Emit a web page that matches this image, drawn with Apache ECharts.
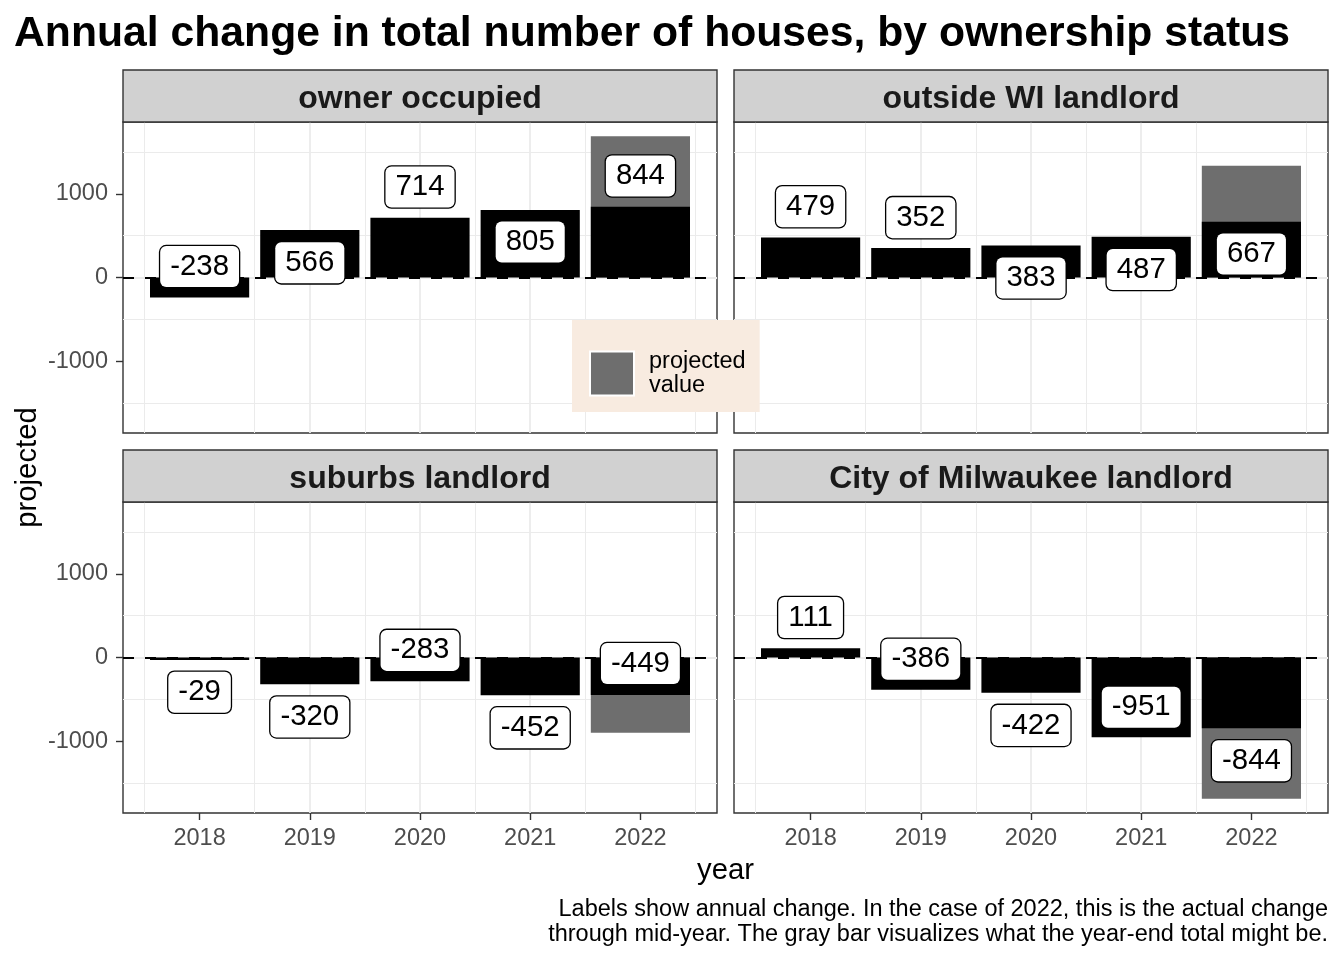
<!DOCTYPE html>
<html><head><meta charset="utf-8">
<script src="https://cdn.jsdelivr.net/npm/echarts@6/dist/echarts.min.js"></script>
<style>html,body{margin:0;padding:0;background:#fff}#chart{width:1344px;height:960px}</style>
</head><body><div id="chart"></div>
<script>
// ---------------- data ----------------
const years = [2018, 2019, 2020, 2021, 2022];
const panelNames = ['owner occupied', 'outside WI landlord', 'suburbs landlord', 'City of Milwaukee landlord'];
const ownerOccupied = [-238, 566, 714, 805, 844];
const outsideWILandlord = [479, 352, 383, 487, 667];
const suburbsLandlord = [-29, -320, -283, -452, -449];
const milwaukeeLandlord = [111, -386, -422, -951, -844];
const projected2022 = [1688, 1334, -898, -1688];
// heights at which the (repelled) value labels sit
const ownerLabelY = [130, 175, 1080, 425, 1212];
const outsideLabelY = [845, 715, -5, 95, 282];
const suburbsLabelY = [-415, -710, 85, -840, -73];
const milwaukeeLabelY = [478, -22, -811, -593, -1234];
const yTickValues = [-1000, 0, 1000];
const captionLines = ['Labels show annual change. In the case of 2022, this is the actual change',
                      'through mid-year. The gray bar visualizes what the year-end total might be.'];

// ---------------- build ----------------
const seriesValues = [ownerOccupied, outsideWILandlord, suburbsLandlord, milwaukeeLandlord];
const labelHeights = [ownerLabelY, outsideLabelY, suburbsLabelY, milwaukeeLabelY];

const FONT = "'Liberation Sans', Arial, Helvetica, sans-serif";
const X_MIN = 2017.305, X_MAX = 2022.695, Y_MIN = -1857, Y_MAX = 1857;
const BAR_HALF = 0.45;
const grids = [
  {left: 123, top: 122, width: 594, height: 311},
  {left: 734, top: 122, width: 594, height: 311},
  {left: 123, top: 502, width: 594, height: 311},
  {left: 734, top: 502, width: 594, height: 311}
];
const strips = [
  {x: 123, y: 70, w: 594, h: 52},
  {x: 734, y: 70, w: 594, h: 52},
  {x: 123, y: 450, w: 594, h: 52},
  {x: 734, y: 450, w: 594, h: 52}
];

function barItem(params, api) {
  const x = api.value(0), v = api.value(1);
  const a = api.coord([x - BAR_HALF, 0]);
  const b = api.coord([x + BAR_HALF, v]);
  return {
    type: 'rect',
    shape: {x: a[0], y: Math.min(a[1], b[1]), width: b[0] - a[0], height: Math.abs(b[1] - a[1])},
    style: {fill: api.visual('color')}
  };
}

const gridLine = {color: '#EBEBEB', width: 1.8};
const minorGridLine = {color: '#EBEBEB', width: 1};
const xAxes = [], yAxes = [], series = [];
grids.forEach((g, i) => {
  const bottom = i >= 2, left = i % 2 === 0;
  xAxes.push({
    gridIndex: i, type: 'value', min: X_MIN, max: X_MAX,
    axisLine: {show: false, onZero: false},
    axisTick: {show: bottom, length: 7, customValues: years, lineStyle: {color: '#333333', width: 1.4}},
    axisLabel: {show: bottom, customValues: years, margin: 14, color: '#4D4D4D', fontSize: 23.5,
                fontFamily: FONT, formatter: v => String(v)},
    splitLine: {show: true, showMinLine: false, showMaxLine: false, lineStyle: gridLine},
    minorTick: {show: false, splitNumber: 2},
    minorSplitLine: {show: true, lineStyle: minorGridLine}
  });
  yAxes.push({
    gridIndex: i, type: 'value', min: Y_MIN, max: Y_MAX,
    axisLine: {show: false, onZero: false},
    axisTick: {show: left, length: 7, customValues: yTickValues, lineStyle: {color: '#333333', width: 1.4}},
    axisLabel: {show: left, customValues: yTickValues, margin: 15, color: '#4D4D4D', fontSize: 23.5,
                fontFamily: FONT, formatter: v => String(v), lineHeight: 28, verticalAlign: 'middle',
                padding: [7, 0, 0, 0]},
    splitLine: {show: true, showMinLine: false, showMaxLine: false, lineStyle: gridLine},
    minorTick: {show: false, splitNumber: 2},
    minorSplitLine: {show: true, lineStyle: minorGridLine}
  });
  // projected (gray) bar for 2022
  series.push({
    type: 'custom', name: 'projected value', xAxisIndex: i, yAxisIndex: i, z: 2,
    itemStyle: {color: '#6E6E6E'},
    renderItem: barItem,
    data: [[years[years.length - 1], projected2022[i]]],
    markLine: {
      silent: true, symbol: 'none', z: 5, animation: false,
      label: {show: false},
      lineStyle: {color: '#000', width: 2, type: [11, 11]},
      data: [{yAxis: 0}]
    }
  });
  // actual (black) bars
  series.push({
    type: 'custom', name: 'actual', xAxisIndex: i, yAxisIndex: i, z: 3,
    itemStyle: {color: '#000000'},
    renderItem: barItem,
    data: years.map((y, j) => [y, seriesValues[i][j]])
  });
  // value labels
  series.push({
    type: 'scatter', name: 'labels', xAxisIndex: i, yAxisIndex: i, z: 10,
    symbol: 'rect', symbolSize: 1, silent: true,
    itemStyle: {color: 'rgba(0,0,0,0)', opacity: 1},
    label: {
      show: true, position: 'inside', formatter: p => String(p.value[2]),
      color: '#000', opacity: 1, fontSize: 29.4, fontFamily: FONT, lineHeight: 31,
      backgroundColor: '#ffffff', borderColor: '#000000', borderWidth: 1.3, borderRadius: 6,
      padding: [7, 10, 3, 10]
    },
    data: years.map((y, j) => [y, labelHeights[i][j], seriesValues[i][j]])
  });
});

const graphics = [];
strips.forEach((s, i) => {
  graphics.push({type: 'rect', z: 3, shape: {x: s.x, y: s.y, width: s.w, height: s.h},
    style: {fill: '#D1D1D1', stroke: '#333333', lineWidth: 1.4}});
  graphics.push({type: 'text', z: 4, x: s.x + s.w / 2, y: s.y + s.h / 2 + 3,
    style: {text: panelNames[i], fontSize: 32, fontWeight: 'bold', fontFamily: FONT, fill: '#1A1A1A',
            textAlign: 'center', textVerticalAlign: 'middle'}});
});
graphics.push({type: 'text', z: 4, x: 725.5, y: 871,
  style: {text: 'year', fontSize: 29.3, fontFamily: FONT, fill: '#000', textAlign: 'center', textVerticalAlign: 'middle'}});
graphics.push({type: 'text', z: 4, x: 28, y: 467.5, rotation: Math.PI / 2,
  style: {text: 'projected', fontSize: 29.3, fontFamily: FONT, fill: '#000', textAlign: 'center', textVerticalAlign: 'middle'}});
graphics.push({type: 'text', z: 4, x: 1328, y: 897,
  style: {text: captionLines.join('\n'), fontSize: 23.5, lineHeight: 25, fontFamily: FONT, fill: '#000',
          textAlign: 'right', textVerticalAlign: 'top'}});

const option = {
  animation: false,
  backgroundColor: '#ffffff',
  title: {
    text: 'Annual change in total number of houses, by ownership status',
    left: 14, top: 13, padding: 0,
    textStyle: {fontSize: 42.7, fontWeight: 'bold', color: '#000', fontFamily: FONT}
  },
  legend: {
    show: true, left: 572, top: 320, z: 20, selectedMode: false,
    orient: 'vertical',
    backgroundColor: '#F8EBE0',
    padding: [27, 14, 12, 17],
    itemWidth: 44, itemHeight: 44,
    data: [{name: 'projected value', icon: 'rect'}],
    itemStyle: {color: '#6E6E6E', borderColor: '#ffffff', borderWidth: 2},
    formatter: () => 'projected\nvalue',
    textStyle: {fontSize: 23.5, lineHeight: 24.5, color: '#000', fontFamily: FONT, padding: [4, 0, 0, 10]}
  },
  grid: grids.map(g => Object.assign({show: true, borderColor: '#333333', borderWidth: 1.4,
                                     backgroundColor: '#ffffff'}, g)),
  xAxis: xAxes,
  yAxis: yAxes,
  series: series,
  graphic: graphics
};

const chart = echarts.init(document.getElementById('chart'), null, {renderer: 'canvas'});
chart.setOption(option);
</script>
</body></html>
